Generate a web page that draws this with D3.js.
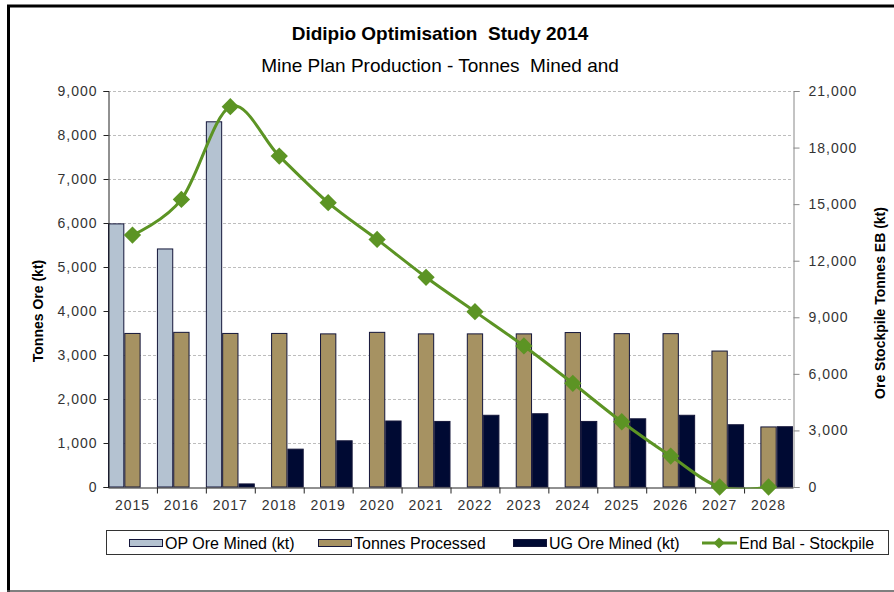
<!DOCTYPE html>
<html>
<head>
<meta charset="utf-8">
<script src="https://cdn.jsdelivr.net/npm/d3@7"></script>
<style>
  body { margin: 0; background: #fff; }
  svg text { font-family: "Liberation Sans", Arial, sans-serif; fill: #222; }
</style>
</head>
<body>
<div id="chart"></div>
<script>
// data
const years = ["2015","2016","2017","2018","2019","2020","2021","2022","2023","2024","2025","2026","2027","2028"];
const opMined = [5980, 5410, 8300, 0, 0, 0, 0, 0, 0, 0, 0, 0, 0, 0];
const processed = [3490, 3515, 3490, 3490, 3480, 3515, 3480, 3480, 3480, 3510, 3485, 3485, 3090, 1365];
const ugMined = [0, 0, 70, 860, 1050, 1500, 1490, 1630, 1665, 1490, 1550, 1630, 1415, 1370];
const stockpile = [13360, 15250, 20170, 17550, 15080, 13130, 11120, 9300, 7480, 5500, 3460, 1640, 0, 0];
const leftTicks = [0, 1000, 2000, 3000, 4000, 5000, 6000, 7000, 8000, 9000];
const rightTicks = [0, 3000, 6000, 9000, 12000, 15000, 18000, 21000];

const seriesNames = ["OP Ore Mined (kt)", "Tonnes Processed", "UG Ore Mined (kt)"];
const barColors = ["#b4c2d1", "#a69262", "#000a33"];
const lineColor = "#5c9424";

const W = 894, H = 592;
const plot = {left: 108, right: 793, top: 91, bottom: 487};

let svg = d3.select("#chart").append("svg").attr("width", W).attr("height", H);

// frame
svg.append("line").attr("x1", 8.5).attr("x2", 8.5).attr("y1", 5).attr("y2", 592).attr("stroke", "#000").attr("stroke-width", 3);
svg.append("line").attr("x1", 7).attr("x2", 894).attr("y1", 6).attr("y2", 6).attr("stroke", "#000").attr("stroke-width", 3);
svg.append("line").attr("x1", 7).attr("x2", 894).attr("y1", 591).attr("y2", 591).attr("stroke", "#555").attr("stroke-width", 1.5);

// titles
svg.append("text").attr("x", 440).attr("y", 40).attr("text-anchor", "middle")
    .style("font-size", "19px").style("font-weight", "bold").style("fill", "#000").style("white-space", "pre")
    .text("Didipio Optimisation  Study 2014");
svg.append("text").attr("x", 440).attr("y", 72).attr("text-anchor", "middle")
    .style("font-size", "19px").style("fill", "#000").style("white-space", "pre")
    .text("Mine Plan Production - Tonnes  Mined and");

// scales
let x = d3.scaleBand().domain(years).range([plot.left, plot.right]).padding(0);
let xInner = d3.scaleBand().domain(d3.range(3)).range([0, x.bandwidth()]).padding(0);
let yL = d3.scaleLinear().domain([0, 9000]).range([plot.bottom, plot.top]);
let yR = d3.scaleLinear().domain([0, 21000]).range([plot.bottom, plot.top]);

// gridlines
svg.append("g").selectAll("line").data(leftTicks.filter(d => d > 0)).enter().append("line")
    .attr("x1", plot.left).attr("x2", plot.right)
    .attr("y1", d => yL(d) + 0.5).attr("y2", d => yL(d) + 0.5)
    .attr("stroke", "#bdbdbd").attr("stroke-dasharray", "3,2").attr("stroke-width", 1);

// bars
let rows = years.map((yr, i) => ({year: yr, vals: [opMined[i], processed[i], ugMined[i]]}));
let groups = svg.append("g").selectAll("g").data(rows).enter().append("g")
    .attr("transform", d => "translate(" + x(d.year) + ",0)");
groups.selectAll("rect").data(d => d.vals.map((v, k) => ({k: k, v: v})).filter(e => e.v > 0))
    .enter().append("rect")
    .attr("x", d => xInner(d.k) + 0.5)
    .attr("y", d => yL(d.v))
    .attr("width", xInner.bandwidth() - 1)
    .attr("height", d => plot.bottom - yL(d.v))
    .attr("fill", d => barColors[d.k])
    .attr("stroke", "#14163a").attr("stroke-width", 1);

// axes
let leftAxis = d3.axisLeft(yL).tickValues(leftTicks).tickFormat(d3.format(",")).tickSize(5).tickPadding(6);
let gL = svg.append("g").attr("transform", "translate(" + (plot.left + 0.5) + ",0)").call(leftAxis);
gL.select(".domain").attr("stroke", "#222");
gL.selectAll(".tick line").attr("stroke", "#222");

let rightAxis = d3.axisRight(yR).tickValues(rightTicks).tickFormat(d3.format(",")).tickSize(6).tickPadding(9);
let gR = svg.append("g").attr("transform", "translate(" + (plot.right + 0.5) + ",0)").call(rightAxis);
gR.select(".domain").attr("stroke", "#888");
gR.selectAll(".tick line").attr("stroke", "#888");

let bottomAxis = d3.axisBottom(x).tickSize(0).tickPadding(13);
let gB = svg.append("g").attr("transform", "translate(0," + (plot.bottom + 0.5) + ")").call(bottomAxis);
gB.select(".domain").attr("stroke", "#222");
// ticks between categories
gB.selectAll(".sep").data(years.slice(1)).enter().append("line").attr("class", "sep")
    .attr("x1", d => x(d) + 0.5).attr("x2", d => x(d) + 0.5).attr("y1", 0).attr("y2", 6)
    .attr("stroke", "#222");

[gL, gR, gB].forEach(g => g.selectAll(".tick text")
    .style("font-size", "14px").style("letter-spacing", "1px").style("fill", "#333")
    .attr("font-family", null));

// axis titles
svg.append("text").attr("transform", "translate(43,311) rotate(-90)").attr("text-anchor", "middle")
    .style("font-size", "14px").style("font-weight", "bold").style("fill", "#000")
    .text("Tonnes Ore (kt)");
svg.append("text").attr("transform", "translate(885,303) rotate(-90)").attr("text-anchor", "middle")
    .style("font-size", "14px").style("font-weight", "bold").style("fill", "#000")
    .text("Ore Stockpile Tonnes EB (kt)");

// stockpile line (clipped so the smoothing does not dip under the axis)
svg.append("clipPath").attr("id", "plotClip").append("rect")
    .attr("x", plot.left - 20).attr("y", plot.top - 30)
    .attr("width", plot.right - plot.left + 40).attr("height", plot.bottom - plot.top + 31.5);
let cx = i => x(years[i]) + x.bandwidth() / 2;
let line = d3.line().x((d, i) => cx(i)).y(d => yR(d)).curve(d3.curveCatmullRom.alpha(0));
svg.append("path").datum(stockpile).attr("d", line).attr("clip-path", "url(#plotClip)")
    .attr("fill", "none").attr("stroke", lineColor).attr("stroke-width", 3);
let diamond = d3.symbol().type(d3.symbolSquare).size(150);
svg.append("g").selectAll("path").data(stockpile).enter().append("path")
    .attr("d", diamond)
    .attr("transform", (d, i) => "translate(" + cx(i) + "," + yR(d) + ") rotate(45)")
    .attr("fill", lineColor);

// legend
let lg = svg.append("g");
lg.append("rect").attr("x", 106.5).attr("y", 530.5).attr("width", 782).attr("height", 24)
    .attr("fill", "#fff").attr("stroke", "#333");
let legX = [129, 318, 513];
seriesNames.forEach((name, k) => {
    lg.append("rect").attr("x", legX[k] + 0.5).attr("y", 539.5).attr("width", 33).attr("height", 7)
        .attr("fill", barColors[k]).attr("stroke", "#14163a");
    lg.append("text").attr("x", legX[k] + 36).attr("y", 549).style("font-size", "16px").style("fill", "#000").text(name);
});
lg.append("line").attr("x1", 702).attr("x2", 737).attr("y1", 543).attr("y2", 543)
    .attr("stroke", lineColor).attr("stroke-width", 3);
lg.append("path").attr("d", d3.symbol().type(d3.symbolSquare).size(60))
    .attr("transform", "translate(719,543) rotate(45)").attr("fill", lineColor);
lg.append("text").attr("x", 739).attr("y", 549).style("font-size", "16px").style("fill", "#000").text("End Bal - Stockpile");
</script>
</body>
</html>
